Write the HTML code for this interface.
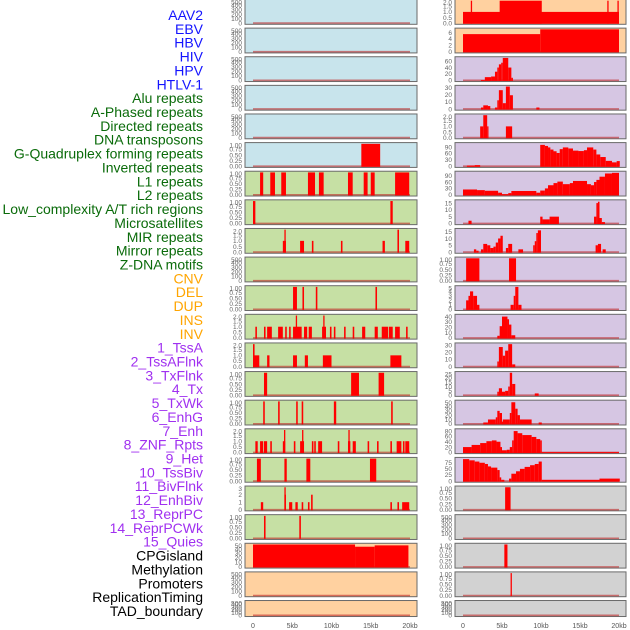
<!DOCTYPE html>
<html><head><meta charset="utf-8"><style>
html,body{margin:0;padding:0;background:#fff;}
svg{display:block;font-family:"Liberation Sans",sans-serif;}
</style></head><body>
<svg id="chart" width="630" height="630" viewBox="0 0 630 630" xmlns="http://www.w3.org/2000/svg">
<g id="labels"></g>
<g id="panels"></g>
<g id="xaxes"></g>
</svg>
<script>
// ---- track labels ----
const labelNames = ["AAV2","EBV","HBV","HIV","HPV","HTLV-1","Alu repeats","A-Phased repeats","Directed repeats","DNA transposons","G-Quadruplex forming repeats","Inverted repeats","L1 repeats","L2 repeats","Low_complexity A/T rich regions","Microsatellites","MIR repeats","Mirror repeats","Z-DNA motifs","CNV","DEL","DUP","INS","INV","1_TssA","2_TssAFlnk","3_TxFlnk","4_Tx","5_TxWk","6_EnhG","7_Enh","8_ZNF_Rpts","9_Het","10_TssBiv","11_BivFlnk","12_EnhBiv","13_ReprPC","14_ReprPCWk","15_Quies","CPGisland","Methylation","Promoters","ReplicationTiming","TAD_boundary"];
const labelGroups = [6,13,5,15,5];
const groupColors = ["#1414ff","#0a6b0a","#ffa500","#a030f0","#000000"];

// ---- x axis ----
const xTickValues = [0,5,10,15,20];
const xTickLabels = ["0","5kb","10kb","15kb","20kb"];

// ---- y tick sets ----
const T500 = ["0","100","200","300","400","500"];
const T1 = ["0.00","0.25","0.50","0.75","1.00"];
const T2 = ["0.0","0.5","1.0","1.5","2.0"];

// ---- middle column data: [startKb, endKb, value] ----
const m5 = [[13.8,16.2,1]];
const m6 = [[0.9,1.3,1],[2.2,2.8,1],[3.6,4.2,1],[7.0,7.9,1],[8.4,9.0,1],[12.1,12.7,1],[14.1,14.6,1],[15.0,15.5,1],[18.1,19.9,1]];
const m7 = [[0,0.3,1],[17.5,17.8,1]];
const m8 = [[3.8,4.2,1],[4.0,4.1,2],[6.0,6.5,1],[7.5,7.7,1],[11.2,11.4,1],[16.5,16.8,1],[18.4,18.6,2],[19.4,19.9,1]];
const m10 = [[5.1,5.6,1],[6.3,6.5,1],[8.0,8.2,1],[15.6,15.8,1]];
const m11 = [[0.3,0.5,1],[1.4,1.6,1],[1.8,2.4,1],[3.2,3.8,1],[4.1,4.3,1],[4.6,4.8,1],[5.1,6.2,1],[5.45,5.6,2],[6.5,6.9,1],[7.1,7.5,1],[8.8,9.3,1],[8.95,9.1,2],[9.8,10.0,1],[10.3,10.5,1],[11.6,11.8,1],[12.7,12.9,1],[13.9,14.3,1],[15.5,15.9,1],[16.4,17.2,1],[17.3,17.8,1],[18.1,18.7,1],[19.5,19.7,1]];
const m12 = [[0,0.8,1],[0,0.2,2],[1.8,2.1,1],[5.1,5.6,1],[6.6,7.0,1],[8.9,10.0,1],[17.5,18.9,1]];
const m13 = [[1.4,1.8,1],[12.5,13.5,1],[16.0,16.7,1]];
const m14 = [[1.3,1.5,1],[3.2,3.4,1],[5.5,5.7,1],[6.2,6.4,1],[10.3,10.6,1],[17.6,17.8,1]];
const m15 = [[0.3,0.6,1],[0.9,1.3,1],[1.4,1.8,1],[2.2,2.4,1],[3.8,4.1,1],[3.95,4.1,2],[5.2,5.4,1],[6.0,6.5,1],[6.25,6.4,2],[7.5,7.7,1],[7.8,8.0,1],[8.3,8.8,1],[10.8,11.0,1],[12.1,12.4,1],[12.15,12.3,2],[12.7,13.1,1],[14.6,14.8,1],[15.8,16.0,1],[17.5,17.7,1],[18.3,18.9,1],[19.1,19.3,1],[19.4,19.9,1]];
const m16 = [[0.5,1.0,1],[4.0,4.3,1],[6.8,7.3,1],[14.9,15.7,1]];
const m17 = [[1.0,1.3,1],[4.0,4.2,2],[4.0,4.1,3],[4.6,5.0,1],[5.4,5.7,1],[6.2,6.4,1],[7.0,7.2,1],[7.4,7.6,2],[17.5,17.7,1],[18.4,18.6,1],[19.0,19.9,1]];
const m18 = [[1.4,1.6,1],[5.9,6.1,1]];
const m19 = [[0,13.0,50],[13.0,15.5,45],[15.5,19.8,48]];

// ---- right column data ----
const r0 = [[0,20,1],[4.7,10.1,2],[1.0,1.15,2],[18.5,18.65,2],[19.8,19.95,2]];
const r1 = [[0,9.9,5.5],[9.9,20,7]];
const r2 = [[2.3,2.8,1],[2.8,3.6,10],[3.6,4.1,12],[4.1,4.4,27],[4.4,4.6,40],[4.6,4.9,50],[4.9,5.1,55],[5.1,5.8,70],[5.8,6.2,40],[6.2,6.4,8]];
const r3 = [[2.3,2.6,2],[2.6,3.2,5],[3.2,3.5,4],[4.1,4.4,2],[4.4,4.6,12],[4.6,5.1,26],[5.1,5.5,8],[5.5,6.0,31],[6.0,6.4,19],[9.4,9.8,2]];
const r4 = [[2.2,2.6,1],[2.6,3.1,2],[3.1,3.2,1],[5.5,6.3,1]];
const r5 = [[0.5,1.5,3],[1.5,2.2,5],[9.9,10.5,100],[10.5,10.9,95],[10.9,11.2,88],[11.2,11.6,78],[11.6,12.0,70],[12.0,12.4,62],[12.4,12.8,80],[12.8,13.5,88],[13.5,14.1,83],[14.1,14.8,73],[14.8,15.5,71],[15.5,15.9,75],[15.9,16.7,88],[16.7,17.1,78],[17.1,17.6,55],[17.6,18.3,43],[18.3,19.1,25],[19.1,19.7,18],[19.7,20.1,24]];
const r6 = [[0,1.8,25],[1.8,2.8,22],[2.8,4.5,19],[4.5,5.0,10],[5.0,5.8,3],[5.8,6.2,8],[6.2,9.4,18],[9.4,9.9,10],[9.9,10.5,20],[10.5,10.9,30],[10.9,11.6,45],[11.6,12.1,55],[12.1,12.8,62],[12.8,13.7,50],[13.7,14.1,55],[14.1,15.9,65],[15.9,16.4,50],[16.4,16.8,45],[16.8,17.1,60],[17.1,17.5,70],[17.5,18.2,85],[18.2,19.1,100],[19.1,20,103]];
const r7 = [[0.7,1.1,2],[9.9,10.2,5],[10.2,11.1,3],[11.1,12.3,5],[16.8,17.1,5],[17.1,17.3,15],[17.3,17.5,16],[17.5,17.8,4],[17.8,18.2,1]];
const r8 = [[1.4,1.7,2],[1.7,2.0,1],[2.3,2.6,2],[2.6,3.1,6],[3.1,3.5,5],[3.5,3.9,3],[3.9,4.2,4],[4.2,4.5,7],[4.5,4.8,10],[4.8,5.1,12],[5.5,5.8,3],[5.8,6.3,6],[7.1,7.7,2],[9.0,9.2,5],[9.2,9.4,8],[9.4,9.6,14],[9.6,10.0,16],[17.0,17.3,5],[17.3,17.7,6],[17.9,18.3,2]];
const r9 = [[0.4,2.1,1],[5.9,6.8,1]];
const r10 = [[0.4,0.7,2],[0.7,0.9,3],[0.9,1.3,4],[1.3,1.8,3],[1.8,2.1,1],[6.1,6.5,1],[6.5,6.7,3],[6.7,7.1,5],[7.1,7.5,1]];
const r11 = [[4.4,4.7,4],[4.7,5.0,22],[5.0,5.7,40],[5.7,5.9,35],[5.9,6.2,25],[6.2,6.7,5]];
const r12 = [[4.4,4.6,7],[4.6,5.1,27],[5.1,5.4,15],[5.4,5.8,22],[5.8,6.3,31],[6.3,6.7,3]];
const r13 = [[4.4,4.6,4],[4.6,5.0,8],[5.0,5.4,4],[5.4,5.8,5],[5.8,6.0,10],[6.0,6.3,26],[6.3,6.7,13],[9.2,9.7,2]];
const r14 = [[2.6,3.2,3],[3.2,4.2,10],[4.2,4.4,15],[4.4,4.7,30],[4.7,5.0,25],[5.0,5.1,5],[5.1,6.0,10],[6.0,6.2,25],[6.2,6.7,50],[6.7,7.0,35],[7.0,7.3,20],[7.3,8.8,10],[9.7,10.1,3]];
const r15 = [[0,1.1,20],[1.1,2.2,28],[2.2,3.0,35],[3.0,3.7,42],[3.7,4.3,45],[4.3,4.8,40],[4.8,5.0,20],[5.0,5.6,8],[5.6,6.0,10],[6.0,6.3,20],[6.3,6.5,45],[6.5,7.0,80],[7.0,7.6,72],[7.6,8.8,65],[8.8,9.4,58],[9.4,9.9,50],[9.9,10.1,45],[10.1,20,1]];
const r16 = [[0,0.8,90],[0.8,1.5,85],[1.5,2.1,80],[2.1,2.8,75],[2.8,3.2,70],[3.2,3.6,60],[3.6,4.4,55],[4.4,4.7,45],[4.7,4.9,15],[4.9,5.3,5],[5.9,6.2,10],[6.2,6.8,30],[6.8,7.3,40],[7.3,7.9,50],[7.9,8.6,58],[8.6,9.2,65],[9.2,9.7,70],[9.7,10.1,80],[10.1,17.5,5],[17.5,20.1,10]];
const r17 = [[5.4,6.1,1]];
const r19 = [[5.3,5.7,1]];
const r20 = [[6.1,6.25,1]];

const BLUE="#c8e4ec", GREEN="#c6e0a4", ORANGE="#ffd1a0", LAV="#d6c6e3", GRAY="#d2d2d2";
// column, row, background, ymax, ticks, data
const panels = [
 ["m",0,BLUE,500,T500,[]],["m",1,BLUE,500,T500,[]],["m",2,BLUE,500,T500,[]],["m",3,BLUE,500,T500,[]],["m",4,BLUE,500,T500,[]],
 ["m",5,BLUE,1,T1,m5],["m",6,GREEN,1,T1,m6],["m",7,GREEN,1,T1,m7],["m",8,GREEN,2,T2,m8],["m",9,GREEN,500,T500,[]],
 ["m",10,GREEN,1,T1,m10],["m",11,GREEN,2,T2,m11],["m",12,GREEN,2,T2,m12],["m",13,GREEN,1,T1,m13],["m",14,GREEN,1,T1,m14],
 ["m",15,GREEN,2,T2,m15],["m",16,GREEN,1,T1,m16],["m",17,GREEN,3,["0","1","2","3"],m17],["m",18,GREEN,1,T1,m18],
 ["m",19,ORANGE,50,["0","10","20","30","40","50"],m19],["m",20,ORANGE,500,T500,[]],["m",21,ORANGE,500,T500,[]],
 ["r",0,ORANGE,2,T2,r0],["r",1,ORANGE,7,["0","2","4","6"],r1],["r",2,LAV,70,["0","20","40","60"],r2],["r",3,LAV,31,["0","10","20","30"],r3],
 ["r",4,LAV,2,T2,r4],["r",5,LAV,105,["0","30","60","90"],r5],["r",6,LAV,105,["0","30","60","90"],r6],["r",7,LAV,16.5,["0","5","10","15"],r7],
 ["r",8,LAV,16.5,["0","5","10","15"],r8],["r",9,LAV,1,T1,r9],["r",10,LAV,5,["0","1","2","3","4","5"],r10],["r",11,LAV,42,["0","10","20","30","40"],r11],
 ["r",12,LAV,31,["0","10","20","30"],r12],["r",13,LAV,26,["0","5","10","15","20","25"],r13],["r",14,LAV,52,["0","10","20","30","40","50"],r14],
 ["r",15,LAV,84,["0","20","40","60","80"],r15],["r",16,LAV,92,["0","25","50","75"],r16],["r",17,GRAY,1,T1,r17],["r",18,GRAY,500,T500,[]],
 ["r",19,GRAY,1,T1,r19],["r",20,GRAY,1,T1,r20],["r",21,GRAY,500,T500,[]]
];

const NS="http://www.w3.org/2000/svg";
function mk(tag, attrs, parent){const e=document.createElementNS(NS,tag);for(const k in attrs)e.setAttribute(k,attrs[k]);parent.appendChild(e);return e;}
const cols = {m:{left:245,right:417,x0:253,x1:410,tickX:242}, r:{left:455,right:626,x0:463,x1:619,tickX:452}};
function xScale(c,kb){return cols[c].x0 + (cols[c].x1-cols[c].x0)*kb/20;}
function rowTop(i){return i*28.62-0.5;}
function rowH(i){return i===21?16:24.8;}

// labels
const lg=document.getElementById('labels');
let gi=0,cnt=0;
labelNames.forEach((n,i)=>{
  if(cnt>=labelGroups[gi]){gi++;cnt=0;}
  cnt++;
  const t=mk('text',{x:203,y:15+i*13.86+5,'text-anchor':'end','font-size':'14',fill:groupColors[gi]},lg);
  t.textContent=n;
  
  
});

// panels
const pg=document.getElementById('panels');
panels.forEach(p=>{
  const [c,row,bg,ymax,ticks,data]=p;
  const top=rowTop(row), h=rowH(row), C=cols[c];
  const g=mk('g',{},pg);
  
  
  const yS=v=>top+h-1.2-(v/ymax)*(h-2.4);
  const bgr=mk('rect',{x:C.left,y:top,width:C.right-C.left,height:h,fill:bg,stroke:'#6a6a6a','stroke-width':1},g);
  
  
  const bl=mk('line',{x1:xScale(c,0),x2:xScale(c,20),y1:yS(0),y2:yS(0),stroke:'rgba(190,40,40,0.6)','stroke-width':1.6},g);
  
  
  data.forEach(d=>{
    const x1=xScale(c,d[0]), x2=xScale(c,d[1]);
    const r=mk('rect',{x:x1,y:yS(d[2]),width:Math.max(1.3,x2-x1),height:yS(0)-yS(d[2])+0.6,fill:'#ff0000'},g);
    
    
  });
  ticks.forEach(t=>{
    const v=parseFloat(t);
    const tl=mk('text',{x:C.tickX,y:Math.min(Math.max(yS(v),top+2.5),top+h)+2.3,'text-anchor':'end','font-size':'6.5',fill:'#666'},g);
    tl.textContent=t;
    
    
  });
});

// x axes
const xg=document.getElementById('xaxes');
['m','r'].forEach(c=>{
  xTickValues.forEach((v,i)=>{
    const t=mk('text',{x:xScale(c,v),y:628,'text-anchor':'middle','font-size':'7',fill:'#555'},xg);
    t.textContent=xTickLabels[i];
    
    
  });
});
</script>
</body></html>
